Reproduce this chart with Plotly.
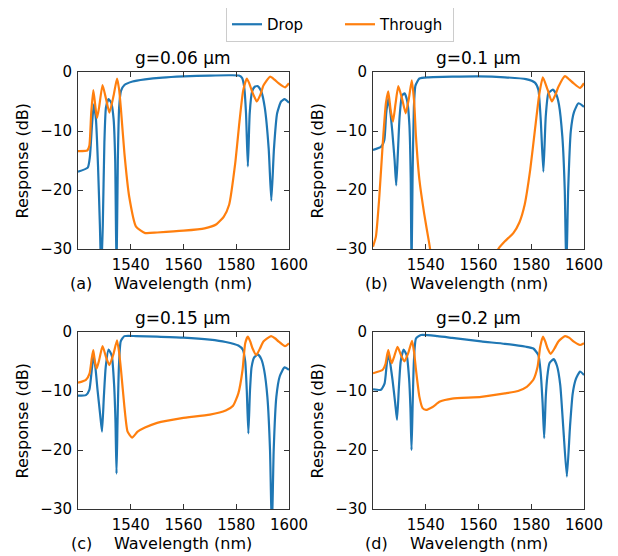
import plotly.graph_objects as go

# ------------------------------------------------------------
# data (wavelength in nm, response in dB)
# ------------------------------------------------------------
GAPS = ["g=0.06 µm", "g=0.1 µm", "g=0.15 µm", "g=0.2 µm"]
PANEL_TAGS = ["(a)", "(b)", "(c)", "(d)"]
X_TICKS = [1540, 1560, 1580, 1600]
Y_TICKS = [0, -10, -20, -30]

A_DROP_WL = [1520, 1523.7, 1524.5, 1525.3, 1526.0, 1526.8, 1527.6, 1528.3, 1528.8, 1529.4, 1530.0,
             1530.6, 1531.6, 1532.6, 1533.5, 1534.1, 1534.6, 1535.1, 1535.6, 1536.3, 1537.6, 1540.7,
             1545.4, 1552, 1560, 1570, 1578, 1581.0, 1582.2, 1583.0, 1583.7, 1584.4, 1585.1, 1586.0,
             1587.0, 1588.2, 1589.5, 1590.8, 1592.3, 1593.3, 1594.3, 1595.5, 1597.0, 1598.3, 1600]
A_DROP_DB = [-16.9, -16.2, -14.4, -9, -5.5, -8, -16, -26, -34, -26, -12,
             -6, -4.6, -5.2, -8, -15, -34, -15, -6, -3.2, -2.2, -1.6,
             -1.25, -0.95, -0.75, -0.6, -0.55, -0.6, -1.0, -2.5, -7, -16, -7, -3.3,
             -2.5, -2.4, -3.3, -6, -13, -21.8, -13, -7, -5, -4.6, -5.2]
A_THRU_WL = [1520, 1523.5, 1524.3, 1525.0, 1525.8, 1526.5, 1527.2, 1528.0, 1529.3, 1530.6, 1531.9,
             1533.5, 1534.8, 1535.6, 1536.3, 1537.6, 1539.4, 1542, 1545.5, 1550, 1560, 1568, 1572.5,
             1575.3, 1577.3, 1579.6, 1581.2, 1582.6, 1584.0, 1585.0, 1586.0, 1587.8, 1589.2, 1590.3,
             1592.8, 1594.5, 1596, 1598.5, 1600]
A_THRU_DB = [-13.4, -13.3, -12.5, -7, -3.05, -5.5, -7.8, -6, -2.2, -4.5, -6.9,
             -4, -1.1, -3, -6.4, -13.8, -21.1, -26.2, -27.3, -27.2, -26.9, -26.5, -25.8,
             -24.5, -22.5, -15.5, -8.5, -3.2, -1.1, -2, -3.3, -5.0, -3.8, -2.3,
             -0.8, -1.3, -1.9, -2.6, -1.9]

B_DROP_WL = [1520, 1523, 1524.3, 1525.0, 1525.8, 1526.5, 1527.3, 1528.2, 1528.8, 1529.4, 1530.1,
             1531.0, 1532.0, 1533.0, 1533.8, 1534.3, 1534.6, 1535.0, 1535.5, 1536.1, 1537.6, 1541,
             1550, 1560, 1570, 1578, 1581.4, 1582.7, 1583.6, 1584.6, 1585.5, 1586.5, 1588.2, 1589.5,
             1590.5, 1591.8, 1592.7, 1593.3, 1594.0, 1595.0, 1596.2, 1597.9, 1600]
B_DROP_DB = [-13.2, -12.7, -11.5, -7, -4.5, -6.5, -10, -15, -19.2, -14, -7.5,
             -4.0, -3.6, -5.0, -9, -18, -34, -18, -6, -2.3, -1.1, -0.9,
             -0.8, -0.75, -0.9, -1.2, -1.8, -3.0, -8.1, -16.9, -7.5, -3.6, -3.0, -3.8,
             -5.5, -11, -20, -34, -20, -10, -6.8, -5.3, -5.9]
B_THRU_WL = [1520, 1521.1, 1522.4, 1523.7, 1524.9, 1525.8, 1526.7, 1527.6, 1528.5, 1529.6, 1531.0,
             1532.4, 1533.6, 1534.7, 1535.6, 1536.3, 1537.6, 1539.4, 1541.3, 1543.0, 1555, 1566.0,
             1567.5, 1570, 1573.2, 1575.5, 1577.5, 1579.6, 1581.4, 1583.1, 1584.4, 1586.2, 1587.8,
             1589.2, 1590.3, 1592.8, 1594.5, 1596, 1598.5, 1600]
B_THRU_DB = [-29.6, -27.9, -21.1, -12.1, -5.3, -3.3, -6.5, -8.4, -5.5, -2.4, -4.5,
             -7.0, -4.5, -1.4, -5, -11, -18.3, -24, -29, -33, -40, -32,
             -30, -28.7, -27.3, -25.5, -22.5, -16.6, -9.8, -3.6, -0.9, -3.0, -5.0,
             -3.8, -2.5, -0.7, -1.3, -1.9, -2.7, -1.9]

C_DROP_WL = [1520, 1523, 1524.3, 1525.2, 1525.9, 1526.6, 1527.4, 1528.4, 1529.1, 1529.8, 1530.5,
             1531.6, 1532.8, 1533.7, 1534.2, 1534.6, 1535.0, 1535.5, 1536.2, 1537.6, 1542, 1550,
             1560, 1570, 1576, 1580.8, 1582.5, 1583.4, 1584.0, 1584.6, 1585.2, 1585.8, 1586.8, 1588.2,
             1589.5, 1590.6, 1591.8, 1592.8, 1593.5, 1594.2, 1595.2, 1596.5, 1598.3, 1600]
C_DROP_DB = [-10.8, -10.7, -9.8, -6.5, -4.0, -6, -9.8, -14, -16.9, -11, -6,
             -3.0, -4.0, -9, -15, -24, -15, -6, -1.6, -0.7, -0.7, -0.8,
             -0.95, -1.3, -1.7, -2.3, -3.0, -5, -10, -17.2, -10, -6, -4.3, -3.8,
             -4.6, -6.5, -11, -20, -34, -20, -11, -7.5, -6, -6.4]
C_THRU_WL = [1520, 1523, 1524.4, 1525.2, 1525.8, 1526.4, 1527.1, 1528.0, 1529.3, 1530.6, 1531.9,
             1533.4, 1534.8, 1535.6, 1536.3, 1537.6, 1538.8, 1540.5, 1542.6, 1545.4, 1550, 1559.4,
             1570, 1576, 1578.8, 1580.8, 1582.4, 1583.4, 1584.4, 1585.3, 1586.2, 1587.6, 1589.0,
             1590.3, 1593.2, 1594.8, 1596, 1598.5, 1600]
C_THRU_DB = [-8.6, -8.1, -7.0, -4.5, -3.05, -5, -6.2, -4.8, -2.4, -4.2, -5.6,
             -3.8, -1.4, -3.5, -6.4, -12.7, -16.9, -17.9, -16.9, -16.2, -15.4, -14.6,
             -14.0, -13.3, -12.5, -10.4, -6.4, -1.9, -0.8, -1.6, -2.8, -3.9, -2.8,
             -1.6, -0.7, -1.1, -1.6, -2.4, -1.9]

D_DROP_WL = [1520, 1523, 1524.4, 1525.2, 1525.9, 1526.6, 1527.4, 1528.4, 1529.1, 1529.8, 1530.5,
             1531.6, 1532.8, 1533.7, 1534.2, 1534.6, 1535.0, 1535.5, 1536.3, 1538.2, 1544.5, 1550,
             1561, 1570, 1578, 1580.8, 1582.7, 1583.6, 1584.3, 1584.9, 1585.5, 1586.1, 1586.9, 1588.5,
             1589.8, 1591.0, 1592.2, 1593.5, 1594.7, 1595.7, 1596.9, 1598.5, 1600]
D_DROP_DB = [-9.7, -9.8, -8.7, -5.5, -3.5, -5.5, -8.1, -12, -14.9, -9.5, -5,
             -3.0, -4.0, -8, -13, -20, -13, -5, -1.1, -0.5, -0.7, -1.0,
             -1.6, -2.0, -2.5, -2.8, -3.9, -7.0, -12, -18, -11, -7.5, -5.3, -4.6,
             -5.8, -9, -16.6, -24.5, -16, -10.5, -8, -6.7, -7.3]
D_THRU_WL = [1520, 1523.7, 1524.7, 1525.3, 1525.8, 1526.4, 1527.1, 1528.0, 1529.3, 1530.6, 1531.9,
             1533.4, 1534.8, 1535.6, 1536.3, 1537.6, 1538.8, 1540.1, 1542.6, 1545.4, 1550, 1561,
             1570, 1575, 1578.3, 1580.8, 1582.4, 1583.4, 1584.4, 1585.3, 1586.2, 1587.4, 1588.8,
             1590.3, 1592.8, 1594.5, 1596, 1598.5, 1600]
D_THRU_DB = [-7.0, -6.4, -5.5, -4, -3.05, -4.3, -5.3, -4.2, -2.5, -3.9, -5.0,
             -3.5, -1.5, -3.5, -6.4, -11, -12.9, -13.2, -12.7, -11.8, -11.3, -11.0,
             -10.4, -10.0, -9.3, -8.1, -5.9, -2.5, -0.8, -1.6, -2.8, -3.7, -2.8,
             -1.6, -0.7, -1.0, -1.6, -2.2, -1.9]

PANELS = [
    (A_DROP_WL, A_DROP_DB, A_THRU_WL, A_THRU_DB),
    (B_DROP_WL, B_DROP_DB, B_THRU_WL, B_THRU_DB),
    (C_DROP_WL, C_DROP_DB, C_THRU_WL, C_THRU_DB),
    (D_DROP_WL, D_DROP_DB, D_THRU_WL, D_THRU_DB),
]

BLUE = "#1f77b4"
ORANGE = "#ff7f0e"
FONT = "DejaVu Sans"

# the page body has an 8px margin, so the figure is drawn 8px smaller
# and all positions are given in window pixels minus that offset
OFF = 8
W, H = 618 - OFF, 556 - OFF

# plot-area boxes in window pixels: left, right, top, bottom
BOXES = [(78, 289, 72, 249), (373, 584, 72, 249),
         (78, 289, 332, 509), (373, 584, 332, 509)]


def px(v):
    return (v - OFF) / W


def py(v):
    return 1 - (v - OFF) / H


fig = go.Figure()
layout = {}
annotations = []

for i, (dwl, ddb, twl, tdb) in enumerate(PANELS):
    n = "" if i == 0 else str(i + 1)
    xa, ya = "x" + n, "y" + n
    left, right, top, bottom = BOXES[i]

    fig.add_trace(go.Scatter(x=dwl, y=ddb, xaxis=xa, yaxis=ya, mode="lines",
                             line=dict(color=BLUE, width=2.2, shape="spline", smoothing=0.5),
                             name="Drop", showlegend=(i == 0)))
    fig.add_trace(go.Scatter(x=twl, y=tdb, xaxis=xa, yaxis=ya, mode="lines",
                             line=dict(color=ORANGE, width=2.2, shape="spline", smoothing=0.5),
                             name="Through", showlegend=(i == 0)))

    axis_common = dict(showline=True, mirror="ticks", linecolor="#333333", linewidth=1,
                       ticks="inside", ticklen=5, tickcolor="#333333", showgrid=False,
                       zeroline=False, tickfont=dict(family=FONT, size=15, color="black"))
    layout["xaxis" + n] = dict(axis_common, domain=[px(left), px(right)], anchor=ya,
                               range=[1520, 1600], tickvals=X_TICKS, ticklabelstandoff=2)
    layout["yaxis" + n] = dict(axis_common, domain=[py(bottom), py(top)], anchor=xa,
                               range=[-30, 0], tickvals=Y_TICKS, ticklabelstandoff=2)

    cx = (left + right) / 2
    annotations += [
        dict(text=GAPS[i], x=px(cx), y=py(top - 14), xref="paper", yref="paper",
             xanchor="center", yanchor="middle", showarrow=False,
             font=dict(family=FONT, size=17, color="black")),
        dict(text="Wavelength (nm)", x=px(cx), y=py(bottom + 34), xref="paper",
             yref="paper", xanchor="center", yanchor="middle", showarrow=False,
             font=dict(family=FONT, size=16, color="black")),
        dict(text=PANEL_TAGS[i], x=px(left + 3), y=py(bottom + 34), xref="paper",
             yref="paper", xanchor="center", yanchor="middle", showarrow=False,
             font=dict(family=FONT, size=16, color="black")),
        dict(text="Response (dB)", x=px(left - 56), y=py((top + bottom) / 2),
             xref="paper", yref="paper", xanchor="center", yanchor="middle",
             textangle=-90, showarrow=False,
             font=dict(family=FONT, size=16, color="black")),
    ]

fig.update_layout(
    **layout,
    annotations=annotations,
    width=W, height=H,
    margin=dict(l=0, r=0, t=0, b=0, autoexpand=False),
    paper_bgcolor="white", plot_bgcolor="white",
    font=dict(family=FONT, size=15, color="black"),
    legend=dict(orientation="h", x=px(340), xanchor="center", y=py(7), yanchor="top",
                bordercolor="#cccccc", borderwidth=1, entrywidth=68,
                font=dict(family=FONT, size=15)),
)

fig.write_html("out.html")
